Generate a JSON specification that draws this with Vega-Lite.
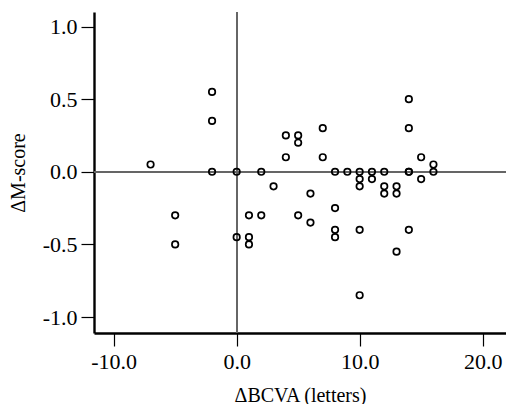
{
  "$schema": "https://vega.github.io/schema/vega-lite/v6.json",
  "width": 412,
  "height": 321,
  "autosize": {"type": "none"},
  "padding": {"left": 94, "top": 12, "right": 0, "bottom": 71},
  "background": "white",
  "config": {
    "view": {"stroke": null},
    "axis": {
      "grid": false,
      "domainColor": "black",
      "domainWidth": 2.4,
      "tickColor": "black",
      "tickWidth": 1.2,
      "tickSize": 13,
      "labelFont": "Liberation Serif",
      "labelFontSize": 22,
      "labelColor": "black",
      "titleFont": "Liberation Serif",
      "titleFontSize": 20,
      "titleFontWeight": "normal",
      "titleColor": "black"
    }
  },
  "data": {
    "values": [
      {"bcva": -7, "mscore": 0.05},
      {"bcva": -5, "mscore": -0.3},
      {"bcva": -5, "mscore": -0.5},
      {"bcva": -2, "mscore": 0.55},
      {"bcva": -2, "mscore": 0.35},
      {"bcva": -2, "mscore": 0},
      {"bcva": 0, "mscore": 0},
      {"bcva": 0, "mscore": -0.45},
      {"bcva": 1, "mscore": -0.3},
      {"bcva": 1, "mscore": -0.45},
      {"bcva": 1, "mscore": -0.5},
      {"bcva": 2, "mscore": 0},
      {"bcva": 2, "mscore": -0.3},
      {"bcva": 3, "mscore": -0.1},
      {"bcva": 4, "mscore": 0.25},
      {"bcva": 4, "mscore": 0.1},
      {"bcva": 5, "mscore": 0.25},
      {"bcva": 5, "mscore": 0.2},
      {"bcva": 5, "mscore": -0.3},
      {"bcva": 6, "mscore": -0.15},
      {"bcva": 6, "mscore": -0.35},
      {"bcva": 7, "mscore": 0.3},
      {"bcva": 7, "mscore": 0.1},
      {"bcva": 8, "mscore": 0},
      {"bcva": 8, "mscore": -0.25},
      {"bcva": 8, "mscore": -0.4},
      {"bcva": 8, "mscore": -0.45},
      {"bcva": 9, "mscore": 0},
      {"bcva": 10, "mscore": 0},
      {"bcva": 10, "mscore": -0.05},
      {"bcva": 10, "mscore": -0.1},
      {"bcva": 10, "mscore": -0.4},
      {"bcva": 10, "mscore": -0.85},
      {"bcva": 11, "mscore": 0},
      {"bcva": 11, "mscore": -0.05},
      {"bcva": 12, "mscore": 0},
      {"bcva": 12, "mscore": -0.1},
      {"bcva": 12, "mscore": -0.15},
      {"bcva": 13, "mscore": -0.1},
      {"bcva": 13, "mscore": -0.15},
      {"bcva": 13, "mscore": -0.55},
      {"bcva": 14, "mscore": 0.5},
      {"bcva": 14, "mscore": 0.3},
      {"bcva": 14, "mscore": 0},
      {"bcva": 14, "mscore": 0},
      {"bcva": 14, "mscore": -0.4},
      {"bcva": 15, "mscore": 0.1},
      {"bcva": 15, "mscore": -0.05},
      {"bcva": 16, "mscore": 0.05},
      {"bcva": 16, "mscore": 0}
    ]
  },
  "layer": [
    {
      "mark": {"type": "rule", "color": "#666666", "strokeWidth": 1},
      "encoding": {"x": {"datum": 0, "type": "quantitative"}}
    },
    {
      "mark": {"type": "rule", "color": "#666666", "strokeWidth": 1},
      "encoding": {"y": {"datum": 0, "type": "quantitative"}}
    },
    {
      "mark": {"type": "point", "shape": "circle", "filled": false, "color": "black", "strokeWidth": 1.7, "size": 42, "opacity": 1},
      "encoding": {
        "x": {
          "field": "bcva",
          "type": "quantitative",
          "scale": {"domain": [-11.6, 21.9], "nice": false, "zero": false},
          "axis": {
            "values": [-10, 0, 10, 20],
            "labelExpr": "replace(format(datum.value, '.1f'), '\u2212', '-')",
            "labelPadding": 5,
            "title": "ΔBCVA (letters)",
            "titlePadding": 13
          }
        },
        "y": {
          "field": "mscore",
          "type": "quantitative",
          "scale": {"domain": [-1.11, 1.1], "nice": false, "zero": false},
          "axis": {
            "values": [-1, -0.5, 0, 0.5, 1],
            "labelExpr": "replace(format(datum.value, '.1f'), '\u2212', '-')",
            "labelPadding": 4,
            "title": "ΔM-score",
            "titlePadding": 14
          }
        }
      }
    }
  ]
}
